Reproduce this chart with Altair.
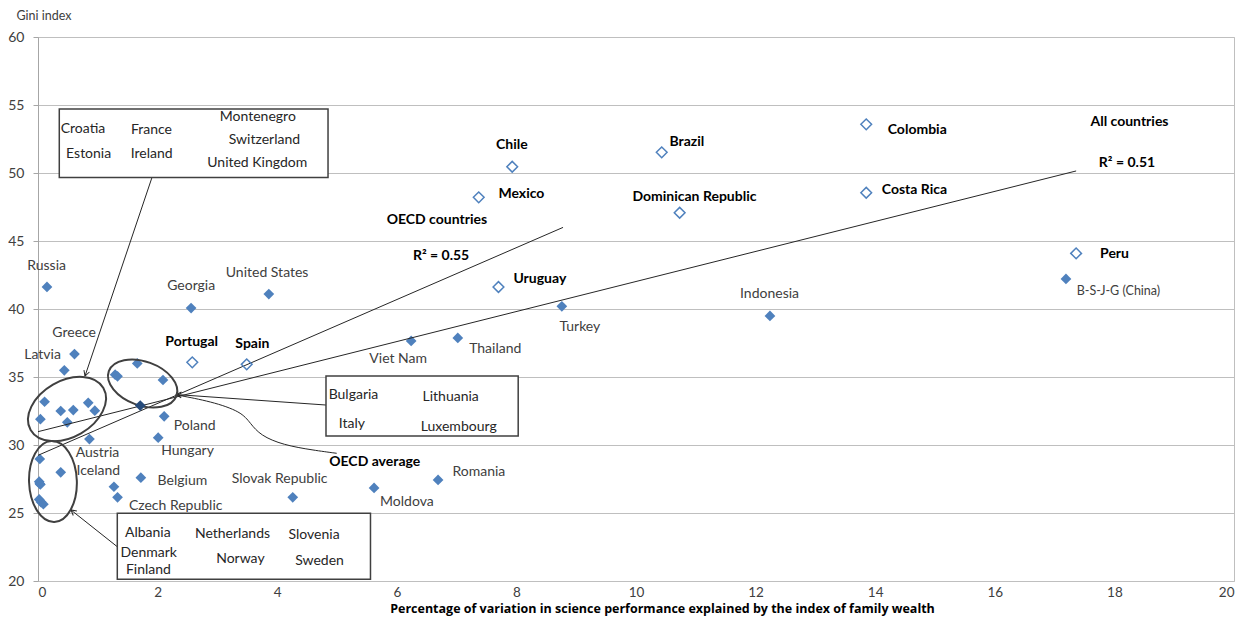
import altair as alt
import pandas as pd

FONT = "Lato"

# ---------------- data ----------------
# filled diamonds (other countries / economies)
filled_x = [0.15, 2.56, 3.86, 0.61, 0.44, 6.24, 7.02, 8.76, 12.24, 17.19,
            6.69, 5.62, 4.26, 2.11, 2.01, 1.72, 1.27, 1.33, 0.86, 0.38,
            0.11, 0.04, 0.38, 0.59, 0.49, 0.84, 0.95,
            0.03, 0.02, 0.03, 0.04, 0.02, 0.05, 0.09,
            1.29, 1.33, 1.66, 2.09]
filled_y = [41.62, 40.07, 41.10, 36.69, 35.49, 37.65, 37.87, 40.20, 39.49, 42.21,
            27.43, 26.84, 26.15, 32.11, 30.54, 27.60, 26.93, 26.15, 30.44, 27.99,
            33.18, 31.90, 32.50, 32.57, 31.67, 33.10, 32.52,
            28.97, 27.30, 27.15, 27.10, 26.00, 25.80, 25.65,
            35.17, 35.05, 36.00, 34.78]

# OECD average point
avg_x = [1.71]
avg_y = [32.90]

# hollow diamonds
hollow_names = ["Colombia", "Brazil", "Chile", "Mexico", "Costa Rica",
                "Dominican Republic", "Uruguay", "Peru", "Portugal", "Spain"]
hollow_x = [13.85, 10.43, 7.93, 7.37, 13.85, 10.73, 7.70, 17.36, 2.58, 3.49]
hollow_y = [53.58, 51.52, 50.46, 48.21, 48.55, 47.08, 41.62, 44.09, 36.08, 35.93]

# trend lines (end points)
trend_oecd_x = [0.0, 8.78]
trend_oecd_y = [29.24, 46.00]
trend_all_x = [0.0, 17.36]
trend_all_y = [30.98, 50.15]

# point labels (regular)
lab_text = ["Russia", "Georgia", "United States", "Greece", "Latvia", "Viet Nam",
            "Thailand", "Turkey", "Indonesia", "Poland", "Hungary", "Austria",
            "Iceland", "Belgium", "Czech Republic", "Slovak Republic", "Moldova",
            "Romania"]
lab_x = [-0.18, 2.16, 3.14, 0.24, -0.23, 5.54, 7.21, 8.72, 11.74, 2.27, 2.06, 0.63,
         0.645, 2.00, 1.52, 3.24, 5.72, 6.93]
lab_y = [43.16, 41.69, 42.67, 38.26, 36.62, 36.32, 37.04, 38.70, 41.08, 31.40, 29.58,
         29.42, 28.10, 27.38, 25.54, 27.48, 25.81, 28.01]

china_text = ["B-S-J-G (China)"]
china_x = [17.37]
china_y = [41.32]

# bold labels
bold_text = ["Portugal", "Spain", "Chile", "Brazil", "Mexico", "Dominican Republic",
             "OECD countries", "R² = 0.55", "Uruguay", "Colombia", "All countries",
             "R² = 0.51", "Costa Rica", "Peru", "OECD average"]
bold_x = [2.13, 3.30, 7.66, 10.56, 7.70, 9.94, 5.83, 6.27, 7.95, 14.21, 17.60, 17.74,
          14.11, 17.76, 4.87]
bold_y = [37.60, 37.40, 52.06, 52.26, 48.43, 48.21, 46.54, 43.92, 42.18, 53.16, 53.77,
          50.76, 48.75, 44.02, 28.77]

# call-out boxes
box_x1 = [0.356, 4.816, 1.326]
box_x2 = [4.85, 8.03, 5.56]
box_y1 = [54.71, 35.07, 24.98]
box_y2 = [49.67, 30.66, 20.13]

box_text = ["Croatia", "France", "Montenegro", "Switzerland", "Estonia", "Ireland",
            "United  Kingdom", "Bulgaria", "Lithuania", "Italy", "Luxembourg",
            "Albania", "Netherlands", "Slovenia", "Denmark", "Norway", "Sweden", "Finland"]
box_tx = [0.38, 1.555, 3.04, 3.19, 0.47, 1.55, 2.83, 4.86, 6.43, 5.03, 6.40,
          1.455, 2.625, 4.19, 1.38, 2.98, 4.30, 1.47]
box_ty = [53.21, 53.16, 54.10, 52.43, 51.40, 51.40, 50.71, 33.68, 33.55, 31.57, 31.35,
          23.55, 23.43, 23.38, 22.04, 21.60, 21.47, 20.82]

# connector lines (from box to cluster)
con_x1 = [1.906, 4.816, 1.326]
con_y1 = [49.67, 32.94, 22.52]
con_x2 = [0.786, 2.31, 0.552]
con_y2 = [35.07, 33.71, 25.22]
arrow_angle = [18.6, 94.0, 129.0]

# OECD average curved call-out
curve_x = [4.995, 4.60, 4.10, 3.72, 3.55, 3.40, 2.90, 2.32]
curve_y = [29.39, 29.62, 30.00, 30.70, 31.60, 32.45, 33.20, 33.68]

# cluster ellipses: centre, semi-major (px), axis ratio, angle
ell_x = [0.485, 1.75, 0.25]
ell_y = [32.65, 34.52, 27.32]
ell_a = [42, 36, 40.5]
ell_r = [0.67, 0.61, 0.59]
ell_ang = [330, 20, 88]

# ---------------- chart ----------------
BLUE = "#4F81BD"
xs = alt.Scale(domain=[0, 20], nice=False, zero=False)
ys = alt.Scale(domain=[20, 60], nice=False, zero=False)

x_axis = alt.Axis(values=list(range(0, 21, 2)), grid=False, domain=False, ticks=False,
                  tickSize=0, labelPadding=4, labelFontSize=13.5, labelColor="#404040",
                  labelFont=FONT, title="Percentage of variation in science performance explained by the index of family wealth",
                  titleFont="Open Sans", titleFontSize=12.5, titleFontWeight="bold", titleColor="#000000",
                  titleX=624, titleY=27, titleBaseline="middle", titleAnchor="start",
                  titleAlign="center")
y_axis = alt.Axis(values=list(range(20, 61, 5)), grid=True, gridColor="#BFBFBF",
                  gridWidth=1, domain=True, domainColor="#A6A6A6", ticks=True,
                  tickColor="#A6A6A6", tickSize=5, labelPadding=9, labelFontSize=14,
                  labelColor="#404040", labelFont=FONT, title="Gini index",
                  titleAngle=0, titleAlign="left", titleBaseline="middle", titleX=-22,
                  titleY=-22, titleFont=FONT, titleFontSize=12.5, titleFontWeight="normal",
                  titleColor="#404040")


def X(f="x"):
    return alt.X(f + ":Q", scale=xs, axis=x_axis)


def Y(f="y"):
    return alt.Y(f + ":Q", scale=ys, axis=y_axis)


filled_df = pd.DataFrame({"x": filled_x, "y": filled_y})
base_pts = alt.Chart(filled_df).mark_point(shape="diamond", filled=True, color=BLUE,
                                           size=115, opacity=1).encode(x=X(), y=Y())

avg_pts = alt.Chart(pd.DataFrame({"x": avg_x, "y": avg_y})).mark_point(
    shape="diamond", filled=True, color="#254A7A", size=115, opacity=1).encode(x=X(), y=Y())

hollow_pts = alt.Chart(pd.DataFrame({"n": hollow_names, "x": hollow_x, "y": hollow_y})).mark_point(
    shape="diamond", filled=False, stroke=BLUE, strokeWidth=1.5, size=115, opacity=1).encode(x=X(), y=Y())

trend_df = pd.DataFrame({"x": trend_oecd_x + trend_all_x, "y": trend_oecd_y + trend_all_y,
                         "g": ["oecd"] * 2 + ["all"] * 2})
trends = alt.Chart(trend_df).mark_line(color="#262626", strokeWidth=1).encode(
    x=X(), y=Y(), detail="g:N")

boxes = alt.Chart(pd.DataFrame({"x": box_x1, "x2": box_x2, "y": box_y1, "y2": box_y2})).mark_rect(
    fill="white", stroke="#404040", strokeWidth=1.5).encode(
    x=X(), x2="x2:Q", y=Y(), y2="y2:Q")

connectors = alt.Chart(pd.DataFrame({"x": con_x1, "y": con_y1, "x2": con_x2, "y2": con_y2})).mark_rule(
    color="#262626", strokeWidth=1).encode(x=X(), y=Y(), x2="x2:Q", y2="y2:Q")

arrows = alt.Chart(pd.DataFrame({"x": con_x2, "y": con_y2, "a": arrow_angle})).mark_point(
    shape="M -0.55 -1 L 0 0 L 0.55 -1", filled=False, stroke="#262626", strokeWidth=1,
    size=110, opacity=1).encode(x=X(), y=Y(), angle=alt.Angle("a:Q", scale=None))

curve = alt.Chart(pd.DataFrame({"x": curve_x, "y": curve_y, "o": list(range(len(curve_x)))})).mark_line(
    color="#262626", strokeWidth=1, interpolate="basis").encode(x=X(), y=Y(), order="o:Q")

ellipses = []
for i in range(3):
    r = ell_r[i]
    path = f"M -1 0 A 1 {r} 0 1 1 1 0 A 1 {r} 0 1 1 -1 0 Z"
    ellipses.append(
        alt.Chart(pd.DataFrame({"x": [ell_x[i]], "y": [ell_y[i]]})).mark_point(
            shape=path, filled=False, stroke="#404040", strokeWidth=2,
            size=(2 * ell_a[i]) ** 2, angle=ell_ang[i], opacity=1).encode(x=X(), y=Y())
    )

labels = alt.Chart(pd.DataFrame({"t": lab_text, "x": lab_x, "y": lab_y})).mark_text(
    align="left", baseline="middle", font=FONT, fontSize=14, color="#404040").encode(
    x=X(), y=Y(), text="t:N")

china = alt.Chart(pd.DataFrame({"t": china_text, "x": china_x, "y": china_y})).mark_text(
    align="left", baseline="middle", font=FONT, fontSize=12.5, color="#404040").encode(
    x=X(), y=Y(), text="t:N")

bold = alt.Chart(pd.DataFrame({"t": bold_text, "x": bold_x, "y": bold_y})).mark_text(
    align="left", baseline="middle", font=FONT, fontSize=14, fontWeight="bold",
    color="#000000").encode(x=X(), y=Y(), text="t:N")

btext = alt.Chart(pd.DataFrame({"t": box_text, "x": box_tx, "y": box_ty})).mark_text(
    align="left", baseline="middle", font=FONT, fontSize=14, color="#262626").encode(
    x=X(), y=Y(), text="t:N")

chart = alt.layer(
    base_pts, trends, connectors, curve, boxes, arrows, *ellipses,
    avg_pts, hollow_pts, labels, china, bold, btext
).properties(
    width=1196, height=544,
    autosize=alt.AutoSizeParams(type="none"),
    padding={"left": 30, "top": 29, "right": 10, "bottom": 35},
    background="white",
).configure_view(stroke="#BFBFBF", strokeWidth=1)

chart.save("out.html", embed_options={"renderer": "svg", "actions": False})
